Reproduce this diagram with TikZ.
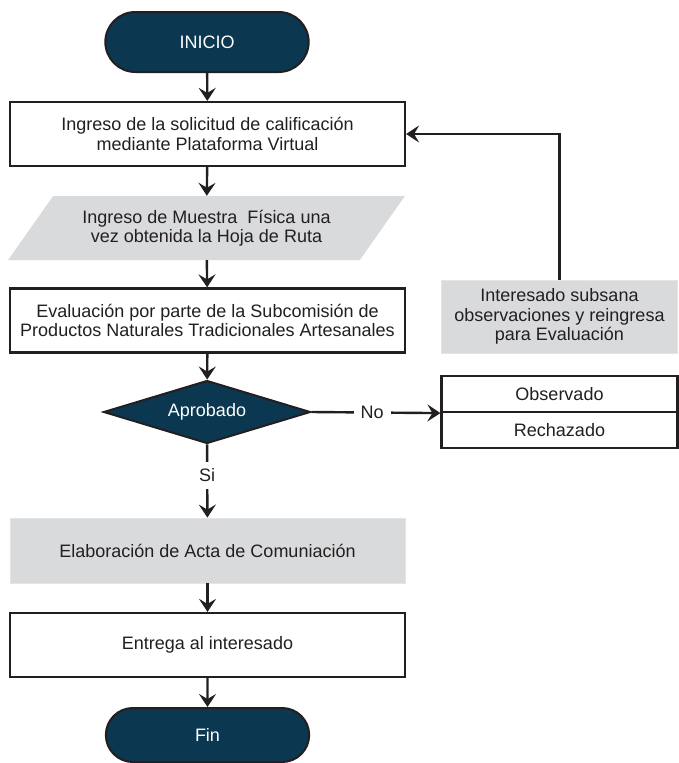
\documentclass[tikz,border=0pt]{standalone}
\usepackage{fontspec}
\setmainfont{Liberation Sans}
\usetikzlibrary{arrows.meta, positioning, shapes.geometric, shapes.misc}
\definecolor{navy}{HTML}{0B3751}
\definecolor{grisclaro}{HTML}{D9DADC}
\definecolor{grisborde}{HTML}{E4E5E7}
\definecolor{tinta}{HTML}{231F20}

\begin{document}
\begin{tikzpicture}[
  x=1pt, y=-1pt,
  >={Stealth[length=13pt, width=17pt, inset=5pt]},
  every node/.style={font=\fontsize{18}{19.5}\selectfont, text=tinta, align=center},
  terminal/.style={rounded rectangle, fill=navy, draw=tinta, line width=2pt,
    text=white, minimum width=210pt, minimum height=60pt},
  proceso/.style={rectangle, draw=tinta, line width=2.2pt, fill=white,
    minimum width=395pt, minimum height=64pt},
  datos/.style={trapezium, trapezium left angle=45, trapezium right angle=135,
    trapezium stretches=true, fill=grisclaro, inner sep=0pt,
    minimum width=397pt, minimum height=64pt},
  decision/.style={diamond, fill=navy, draw=tinta, line width=2pt, text=white,
    aspect=3.3, inner sep=0pt, minimum width=207pt, minimum height=63pt},
  nota/.style={rectangle, fill=grisclaro, draw=grisborde, line width=0.8pt},
  lista/.style={rectangle, draw=tinta, line width=2.2pt, fill=white,
    minimum width=236pt, minimum height=36pt},
  flujo/.style={->, draw=tinta, line width=2.4pt},
  etiqueta/.style={fill=white, inner sep=7pt},
]

\useasboundingbox (0,0) rectangle (679,763);

% === Flujo principal ===
\node[terminal] (inicio) at (207,42) {INICIO};
\node[proceso] (solicitud) at (207.5,134)
  {Ingreso de la solicitud de calificación\\mediante Plataforma Virtual};
\node[datos] (muestra) at (206.5,228)
  {Ingreso de Muestra~ Física una\\vez obtenida la Hoja de Ruta};
\node[proceso] (evaluacion) at (207.5,320.5)
  {Evaluación por parte de la Subcomisión de\\Productos Naturales Tradicionales Artesanales};
\node[decision] (aprobado) at (207,412) {Aprobado};
\node[nota, minimum width=395pt, minimum height=65pt] (acta) at (207.5,550.5)
  {Elaboración de Acta de Comuniación};
\node[proceso] (entrega) at (207.5,645) {Entrega al interesado};
\node[terminal, minimum height=54pt] (fin) at (207.5,735) {Fin};

% === Observado / Rechazado ===
\node[lista] (observado) at (559.5,394) {Observado};
\node[lista] (rechazado) at (559.5,430) {Rechazado};

% Reingreso
\node[nota, minimum width=236pt, minimum height=73pt] (subsana) at (559.5,316.5)
  {Interesado subsana\\observaciones y reingresa\\para Evaluación};

% === Conectores ===
\draw[flujo] (inicio) -- (solicitud);
\draw[flujo] (solicitud) -- (muestra);
\draw[flujo] (muestra) -- (evaluacion);
\draw[flujo] (evaluacion) -- (aprobado);
\draw[flujo] (aprobado.east) -- (observado.south west)
  node[etiqueta, pos=0.47] {No};
\draw[flujo] (aprobado) -- (acta)
  node[etiqueta, pos=0.42] {Si};
\draw[flujo] (acta) -- (entrega);
\draw[flujo] (entrega) -- (fin);
\draw[flujo] (subsana.north) |- (solicitud.east);

\end{tikzpicture}
\end{document}
